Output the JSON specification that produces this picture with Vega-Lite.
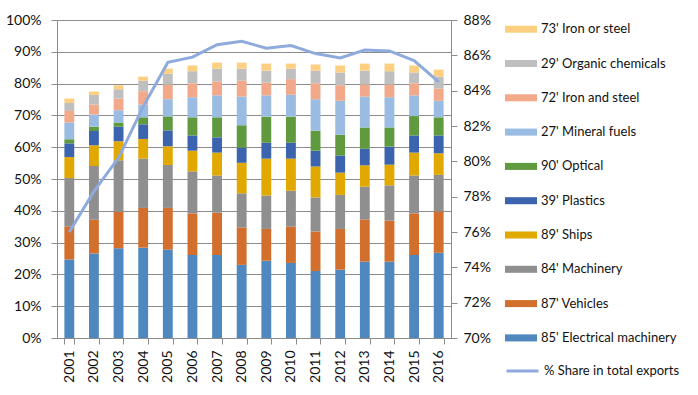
{
  "$schema": "https://vega.github.io/schema/vega-lite/v6.json",
  "width": 394,
  "height": 318,
  "autosize": "none",
  "padding": {"left": 57, "top": 20, "right": 247, "bottom": 57},
  "background": "white",
  "config": {
    "view": {"stroke": null},
    "font": "Lato",
    "axis": {
      "labelFont": "Lato",
      "labelFontSize": 14,
      "labelColor": "#111111",
      "domainColor": "#8C8C8C",
      "tickColor": "#8C8C8C",
      "gridColor": "#8C8C8C",
      "tickSize": 6,
      "title": null
    },
    "legend": {
      "labelFont": "Lato",
      "labelFontSize": 13,
      "labelColor": "#111111",
      "labelLimit": 220,
      "padding": 0
    }
  },
  "datasets": {
    "stackorder": [
      {"series": "85' Electrical machinery", "stack": 1},
      {"series": "87' Vehicles", "stack": 2},
      {"series": "84' Machinery", "stack": 3},
      {"series": "89' Ships", "stack": 4},
      {"series": "39' Plastics", "stack": 5},
      {"series": "90' Optical", "stack": 6},
      {"series": "27' Mineral fuels", "stack": 7},
      {"series": "72' Iron and steel", "stack": 8},
      {"series": "29' Organic chemicals", "stack": 9},
      {"series": "73' Iron or steel", "stack": 10}
    ],
    "bars": [
      {"year": "2001", "series": "85' Electrical machinery", "value": 24.7},
      {"year": "2001", "series": "87' Vehicles", "value": 10.4},
      {"year": "2001", "series": "84' Machinery", "value": 15.2},
      {"year": "2001", "series": "89' Ships", "value": 6.6},
      {"year": "2001", "series": "39' Plastics", "value": 4.3},
      {"year": "2001", "series": "90' Optical", "value": 1.3},
      {"year": "2001", "series": "27' Mineral fuels", "value": 5.3},
      {"year": "2001", "series": "72' Iron and steel", "value": 3.6},
      {"year": "2001", "series": "29' Organic chemicals", "value": 2.5},
      {"year": "2001", "series": "73' Iron or steel", "value": 1.4},
      {"year": "2002", "series": "85' Electrical machinery", "value": 26.6},
      {"year": "2002", "series": "87' Vehicles", "value": 10.6},
      {"year": "2002", "series": "84' Machinery", "value": 16.9},
      {"year": "2002", "series": "89' Ships", "value": 6.5},
      {"year": "2002", "series": "39' Plastics", "value": 4.5},
      {"year": "2002", "series": "90' Optical", "value": 1.3},
      {"year": "2002", "series": "27' Mineral fuels", "value": 3.9},
      {"year": "2002", "series": "72' Iron and steel", "value": 3.1},
      {"year": "2002", "series": "29' Organic chemicals", "value": 3.0},
      {"year": "2002", "series": "73' Iron or steel", "value": 1.1},
      {"year": "2003", "series": "85' Electrical machinery", "value": 28.2},
      {"year": "2003", "series": "87' Vehicles", "value": 11.5},
      {"year": "2003", "series": "84' Machinery", "value": 16.2},
      {"year": "2003", "series": "89' Ships", "value": 6.0},
      {"year": "2003", "series": "39' Plastics", "value": 4.5},
      {"year": "2003", "series": "90' Optical", "value": 1.4},
      {"year": "2003", "series": "27' Mineral fuels", "value": 3.8},
      {"year": "2003", "series": "72' Iron and steel", "value": 3.7},
      {"year": "2003", "series": "29' Organic chemicals", "value": 2.9},
      {"year": "2003", "series": "73' Iron or steel", "value": 1.3},
      {"year": "2004", "series": "85' Electrical machinery", "value": 28.4},
      {"year": "2004", "series": "87' Vehicles", "value": 12.5},
      {"year": "2004", "series": "84' Machinery", "value": 15.5},
      {"year": "2004", "series": "89' Ships", "value": 6.2},
      {"year": "2004", "series": "39' Plastics", "value": 4.6},
      {"year": "2004", "series": "90' Optical", "value": 2.2},
      {"year": "2004", "series": "27' Mineral fuels", "value": 4.0},
      {"year": "2004", "series": "72' Iron and steel", "value": 4.2},
      {"year": "2004", "series": "29' Organic chemicals", "value": 3.3},
      {"year": "2004", "series": "73' Iron or steel", "value": 1.3},
      {"year": "2005", "series": "85' Electrical machinery", "value": 27.8},
      {"year": "2005", "series": "87' Vehicles", "value": 13.1},
      {"year": "2005", "series": "84' Machinery", "value": 13.5},
      {"year": "2005", "series": "89' Ships", "value": 5.9},
      {"year": "2005", "series": "39' Plastics", "value": 5.0},
      {"year": "2005", "series": "90' Optical", "value": 4.4},
      {"year": "2005", "series": "27' Mineral fuels", "value": 5.4},
      {"year": "2005", "series": "72' Iron and steel", "value": 4.6},
      {"year": "2005", "series": "29' Organic chemicals", "value": 3.4},
      {"year": "2005", "series": "73' Iron or steel", "value": 1.6},
      {"year": "2006", "series": "85' Electrical machinery", "value": 26.1},
      {"year": "2006", "series": "87' Vehicles", "value": 13.1},
      {"year": "2006", "series": "84' Machinery", "value": 13.2},
      {"year": "2006", "series": "89' Ships", "value": 6.5},
      {"year": "2006", "series": "39' Plastics", "value": 4.8},
      {"year": "2006", "series": "90' Optical", "value": 5.7},
      {"year": "2006", "series": "27' Mineral fuels", "value": 6.3},
      {"year": "2006", "series": "72' Iron and steel", "value": 4.4},
      {"year": "2006", "series": "29' Organic chemicals", "value": 3.8},
      {"year": "2006", "series": "73' Iron or steel", "value": 1.8},
      {"year": "2007", "series": "85' Electrical machinery", "value": 26.1},
      {"year": "2007", "series": "87' Vehicles", "value": 13.3},
      {"year": "2007", "series": "84' Machinery", "value": 11.7},
      {"year": "2007", "series": "89' Ships", "value": 7.2},
      {"year": "2007", "series": "39' Plastics", "value": 4.8},
      {"year": "2007", "series": "90' Optical", "value": 6.3},
      {"year": "2007", "series": "27' Mineral fuels", "value": 6.9},
      {"year": "2007", "series": "72' Iron and steel", "value": 4.4},
      {"year": "2007", "series": "29' Organic chemicals", "value": 4.0},
      {"year": "2007", "series": "73' Iron or steel", "value": 1.9},
      {"year": "2008", "series": "85' Electrical machinery", "value": 23.0},
      {"year": "2008", "series": "87' Vehicles", "value": 11.8},
      {"year": "2008", "series": "84' Machinery", "value": 10.7},
      {"year": "2008", "series": "89' Ships", "value": 9.6},
      {"year": "2008", "series": "39' Plastics", "value": 4.8},
      {"year": "2008", "series": "90' Optical", "value": 7.0},
      {"year": "2008", "series": "27' Mineral fuels", "value": 9.0},
      {"year": "2008", "series": "72' Iron and steel", "value": 5.0},
      {"year": "2008", "series": "29' Organic chemicals", "value": 3.8},
      {"year": "2008", "series": "73' Iron or steel", "value": 1.9},
      {"year": "2009", "series": "85' Electrical machinery", "value": 24.3},
      {"year": "2009", "series": "87' Vehicles", "value": 10.0},
      {"year": "2009", "series": "84' Machinery", "value": 10.5},
      {"year": "2009", "series": "89' Ships", "value": 11.6},
      {"year": "2009", "series": "39' Plastics", "value": 5.0},
      {"year": "2009", "series": "90' Optical", "value": 8.2},
      {"year": "2009", "series": "27' Mineral fuels", "value": 6.7},
      {"year": "2009", "series": "72' Iron and steel", "value": 4.0},
      {"year": "2009", "series": "29' Organic chemicals", "value": 3.8},
      {"year": "2009", "series": "73' Iron or steel", "value": 2.2},
      {"year": "2010", "series": "85' Electrical machinery", "value": 23.6},
      {"year": "2010", "series": "87' Vehicles", "value": 11.4},
      {"year": "2010", "series": "84' Machinery", "value": 11.3},
      {"year": "2010", "series": "89' Ships", "value": 10.1},
      {"year": "2010", "series": "39' Plastics", "value": 5.0},
      {"year": "2010", "series": "90' Optical", "value": 8.2},
      {"year": "2010", "series": "27' Mineral fuels", "value": 6.9},
      {"year": "2010", "series": "72' Iron and steel", "value": 4.9},
      {"year": "2010", "series": "29' Organic chemicals", "value": 3.3},
      {"year": "2010", "series": "73' Iron or steel", "value": 1.6},
      {"year": "2011", "series": "85' Electrical machinery", "value": 21.1},
      {"year": "2011", "series": "87' Vehicles", "value": 12.4},
      {"year": "2011", "series": "84' Machinery", "value": 10.7},
      {"year": "2011", "series": "89' Ships", "value": 9.7},
      {"year": "2011", "series": "39' Plastics", "value": 5.0},
      {"year": "2011", "series": "90' Optical", "value": 6.3},
      {"year": "2011", "series": "27' Mineral fuels", "value": 9.9},
      {"year": "2011", "series": "72' Iron and steel", "value": 5.0},
      {"year": "2011", "series": "29' Organic chemicals", "value": 4.0},
      {"year": "2011", "series": "73' Iron or steel", "value": 1.9},
      {"year": "2012", "series": "85' Electrical machinery", "value": 21.5},
      {"year": "2012", "series": "87' Vehicles", "value": 12.8},
      {"year": "2012", "series": "84' Machinery", "value": 10.7},
      {"year": "2012", "series": "89' Ships", "value": 7.0},
      {"year": "2012", "series": "39' Plastics", "value": 5.4},
      {"year": "2012", "series": "90' Optical", "value": 6.5},
      {"year": "2012", "series": "27' Mineral fuels", "value": 10.7},
      {"year": "2012", "series": "72' Iron and steel", "value": 4.9},
      {"year": "2012", "series": "29' Organic chemicals", "value": 4.0},
      {"year": "2012", "series": "73' Iron or steel", "value": 2.2},
      {"year": "2013", "series": "85' Electrical machinery", "value": 24.0},
      {"year": "2013", "series": "87' Vehicles", "value": 13.3},
      {"year": "2013", "series": "84' Machinery", "value": 10.3},
      {"year": "2013", "series": "89' Ships", "value": 6.7},
      {"year": "2013", "series": "39' Plastics", "value": 5.2},
      {"year": "2013", "series": "90' Optical", "value": 6.7},
      {"year": "2013", "series": "27' Mineral fuels", "value": 9.7},
      {"year": "2013", "series": "72' Iron and steel", "value": 3.8},
      {"year": "2013", "series": "29' Organic chemicals", "value": 4.4},
      {"year": "2013", "series": "73' Iron or steel", "value": 2.2},
      {"year": "2014", "series": "85' Electrical machinery", "value": 24.0},
      {"year": "2014", "series": "87' Vehicles", "value": 12.9},
      {"year": "2014", "series": "84' Machinery", "value": 11.1},
      {"year": "2014", "series": "89' Ships", "value": 6.5},
      {"year": "2014", "series": "39' Plastics", "value": 5.7},
      {"year": "2014", "series": "90' Optical", "value": 6.0},
      {"year": "2014", "series": "27' Mineral fuels", "value": 9.5},
      {"year": "2014", "series": "72' Iron and steel", "value": 4.0},
      {"year": "2014", "series": "29' Organic chemicals", "value": 4.2},
      {"year": "2014", "series": "73' Iron or steel", "value": 2.4},
      {"year": "2015", "series": "85' Electrical machinery", "value": 26.1},
      {"year": "2015", "series": "87' Vehicles", "value": 13.1},
      {"year": "2015", "series": "84' Machinery", "value": 11.9},
      {"year": "2015", "series": "89' Ships", "value": 7.2},
      {"year": "2015", "series": "39' Plastics", "value": 5.4},
      {"year": "2015", "series": "90' Optical", "value": 6.1},
      {"year": "2015", "series": "27' Mineral fuels", "value": 6.5},
      {"year": "2015", "series": "72' Iron and steel", "value": 3.8},
      {"year": "2015", "series": "29' Organic chemicals", "value": 3.4},
      {"year": "2015", "series": "73' Iron or steel", "value": 2.2},
      {"year": "2016", "series": "85' Electrical machinery", "value": 26.8},
      {"year": "2016", "series": "87' Vehicles", "value": 13.0},
      {"year": "2016", "series": "84' Machinery", "value": 11.5},
      {"year": "2016", "series": "89' Ships", "value": 6.8},
      {"year": "2016", "series": "39' Plastics", "value": 5.6},
      {"year": "2016", "series": "90' Optical", "value": 5.7},
      {"year": "2016", "series": "27' Mineral fuels", "value": 5.2},
      {"year": "2016", "series": "72' Iron and steel", "value": 3.8},
      {"year": "2016", "series": "29' Organic chemicals", "value": 3.8},
      {"year": "2016", "series": "73' Iron or steel", "value": 2.2}
    ],
    "share": [
      {"year": "2001", "share": 76.0},
      {"year": "2002", "share": 78.3},
      {"year": "2003", "share": 80.2},
      {"year": "2004", "share": 83.1},
      {"year": "2005", "share": 85.6},
      {"year": "2006", "share": 85.9},
      {"year": "2007", "share": 86.6},
      {"year": "2008", "share": 86.8},
      {"year": "2009", "share": 86.4},
      {"year": "2010", "share": 86.55},
      {"year": "2011", "share": 86.1},
      {"year": "2012", "share": 85.85},
      {"year": "2013", "share": 86.3},
      {"year": "2014", "share": 86.25},
      {"year": "2015", "share": 85.7},
      {"year": "2016", "share": 84.5}
    ]
  },
  "layer": [
    {
      "data": {"name": "bars"},
      "transform": [
        {"lookup": "series", "from": {"data": {"name": "stackorder"}, "key": "series", "fields": ["stack"]}}
      ],
      "mark": {"type": "bar"},
      "encoding": {
        "x": {
          "field": "year",
          "type": "ordinal",
          "scale": {"paddingInner": 0.6, "paddingOuter": 0.3},
          "axis": {
            "labelAngle": 270,
            "tickBand": "extent",
            "labelPadding": 6,
            "domain": true,
            "grid": false
          }
        },
        "y": {
          "field": "value",
          "type": "quantitative",
          "stack": "zero",
          "scale": {"domain": [0, 100], "nice": false},
          "axis": {
            "values": [0, 10, 20, 30, 40, 50, 60, 70, 80, 90, 100],
            "labelExpr": "datum.value + '%'",
            "grid": true,
            "domain": true,
            "labelPadding": 10
          }
        },
        "color": {
          "field": "series",
          "type": "nominal",
          "scale": {
            "domain": ["73' Iron or steel", "29' Organic chemicals", "72' Iron and steel", "27' Mineral fuels", "90' Optical", "39' Plastics", "89' Ships", "84' Machinery", "87' Vehicles", "85' Electrical machinery"],
            "range": ["#FDD081", "#BFBFBF", "#F1A98A", "#9ABCE2", "#5F9A3E", "#3C64AE", "#E1A800", "#8F8F8F", "#D36F2C", "#4E88BF"]
          },
          "legend": {
            "title": null,
            "orient": "none",
            "legendX": 448,
            "legendY": -6.8,
            "symbolType": "M-1,-0.22H1V0.22H-1Z",
            "symbolSize": 1024,
            "symbolStrokeWidth": 0,
            "rowPadding": 11.3,
            "labelOffset": 4
          }
        },
        "order": {"field": "stack", "type": "quantitative", "sort": "ascending"}
      }
    },
    {
      "data": {"name": "share"},
      "mark": {"type": "line", "strokeWidth": 3},
      "encoding": {
        "x": {"field": "year", "type": "ordinal"},
        "y": {
          "field": "share",
          "type": "quantitative",
          "scale": {"domain": [70, 88], "nice": false, "zero": false},
          "axis": {
            "orient": "right",
            "values": [70, 72, 74, 76, 78, 80, 82, 84, 86, 88],
            "labelExpr": "datum.value + '%'",
            "grid": false,
            "domain": true,
            "labelPadding": 6
          }
        },
        "stroke": {
          "datum": "% Share in total exports",
          "type": "nominal",
          "scale": {"range": ["#8FAADC"]},
          "legend": {
            "title": null,
            "orient": "none",
            "legendX": 448,
            "legendY": 333.5,
            "symbolType": "stroke",
            "symbolSize": 1024,
            "symbolStrokeWidth": 3,
            "labelOffset": 4
          }
        }
      }
    }
  ],
  "resolve": {"scale": {"y": "independent"}}
}
